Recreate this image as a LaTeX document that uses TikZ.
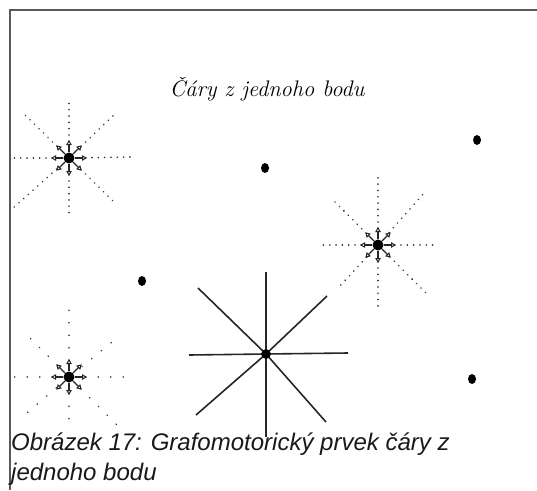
\documentclass[tikz,border=0pt]{standalone}
\usepackage{fontspec}
\newfontfamily\capfont{Liberation Sans}
\usetikzlibrary{arrows.meta,shapes.geometric}
\begin{document}
\begin{tikzpicture}[x=1pt,y=-1pt,
  dotray/.style={line width=1.8pt, dash pattern=on 0.01pt off 6.3pt, line cap=round, black!80, shorten <=11pt},
  sparseray/.style={dotray, dash pattern=on 0.01pt off 12.5pt},
  solidray/.style={line width=1.6pt, black!85},
  arr/.style={line width=1.2pt, black!85, -{Triangle[open,length=5pt,width=5.5pt,line width=1pt]}},
  hub/.style={circle, fill=black, inner sep=0pt, minimum size=11pt},
  smallhub/.style={circle, fill=black, inner sep=0pt, minimum size=9.5pt},
  spot/.style={ellipse, fill=black, inner sep=0pt, minimum width=8pt, minimum height=10pt},
  frameline/.style={line width=1.3pt, black!65}]
\useasboundingbox (0,0) rectangle (537,490);
\fill[white] (0,0) rectangle (537,490);

% frame
\coordinate (fTR) at (537,10);
\coordinate (fTL) at (10,10);
\coordinate (fBL) at (10,490);
\draw[frameline] (fTR) -- (fTL) -- (fBL);

% title
\node[font=\fontsize{22.5}{26}\selectfont\itshape, anchor=base, inner sep=0pt] (title) at (267,96) {Čáry z jednoho bodu};

% isolated dots
\node[spot] (p1) at (265,168) {};
\node[spot] (p2) at (477,140) {};
\node[spot] (p3) at (142,281) {};
\node[spot] (p4) at (472,379) {};

% star 1 (dotted, top left)
\node[hub] (A) at (69,158) {};
\coordinate (A-N) at (69,99);
\coordinate (A-S) at (69,213);
\coordinate (A-W) at (12,158);
\coordinate (A-E) at (130,157);
\coordinate (A-NW) at (22,112);
\coordinate (A-NE) at (117,112);
\coordinate (A-SW) at (12,209);
\coordinate (A-SE) at (115,203);
\foreach \e in {N,S,W,E,NW,NE,SW,SE} \draw[dotray] (A) -- (A-\e);

% star 2 (dotted, right)
\node[hub] (B) at (378,245) {};
\coordinate (B-N) at (378,173);
\coordinate (B-S) at (378,307);
\coordinate (B-W) at (322,245);
\coordinate (B-E) at (438,245);
\coordinate (B-NW) at (333,200);
\coordinate (B-NE) at (425,192);
\coordinate (B-SW) at (338,288);
\coordinate (B-SE) at (428,295);
\foreach \e in {N,S,W,E,NW,NE,SW,SE} \draw[dotray] (B) -- (B-\e);

% star 3 (sparse dotted, bottom left)
\node[hub] (C) at (69,377) {};
\coordinate (C-N) at (69,305);
\coordinate (C-S) at (69,420);
\coordinate (C-W) at (12,377);
\coordinate (C-E) at (130,377);
\coordinate (C-NW) at (22,330);
\coordinate (C-NE) at (117,338);
\coordinate (C-SW) at (21,418);
\coordinate (C-SE) at (117,425);
\foreach \e in {N,S,W,E,NW,NE,SW,SE} \draw[sparseray] (C) -- (C-\e);

% arrows around the dotted stars
\foreach \s in {A,B,C}{
  \foreach \ang [count=\i] in {0,45,...,315}{
    \path (\s) ++(\ang:18) coordinate (\s-t\i);
    \draw[arr] (\s) -- (\s-t\i);
  }
}

% star 4 (solid)
\node[smallhub] (D) at (266,354) {};
\coordinate (D-N) at (266,272);
\coordinate (D-S) at (266,437);
\coordinate (D-W) at (189,355);
\coordinate (D-E) at (348,353);
\coordinate (D-NW) at (198,288);
\coordinate (D-NE) at (327,296);
\coordinate (D-SW) at (196,415);
\coordinate (D-SE) at (326,422);
\foreach \e in {N,S,W,E,NW,NE,SW,SE} \draw[solidray] (D.center) -- (D-\e);
\node[smallhub] at (D) {};

% caption
\node[font=\capfont\itshape\fontsize{24}{29.5}\selectfont, anchor=base west, inner sep=0pt, text=black!90] (cap1) at (11,450) {Obrázek 17: Grafomotorický prvek čáry z};
\node[font=\capfont\itshape\fontsize{24}{29.5}\selectfont, anchor=base west, inner sep=0pt, text=black!90] (cap2) at (11,480) {jednoho bodu};
\end{tikzpicture}
\end{document}
